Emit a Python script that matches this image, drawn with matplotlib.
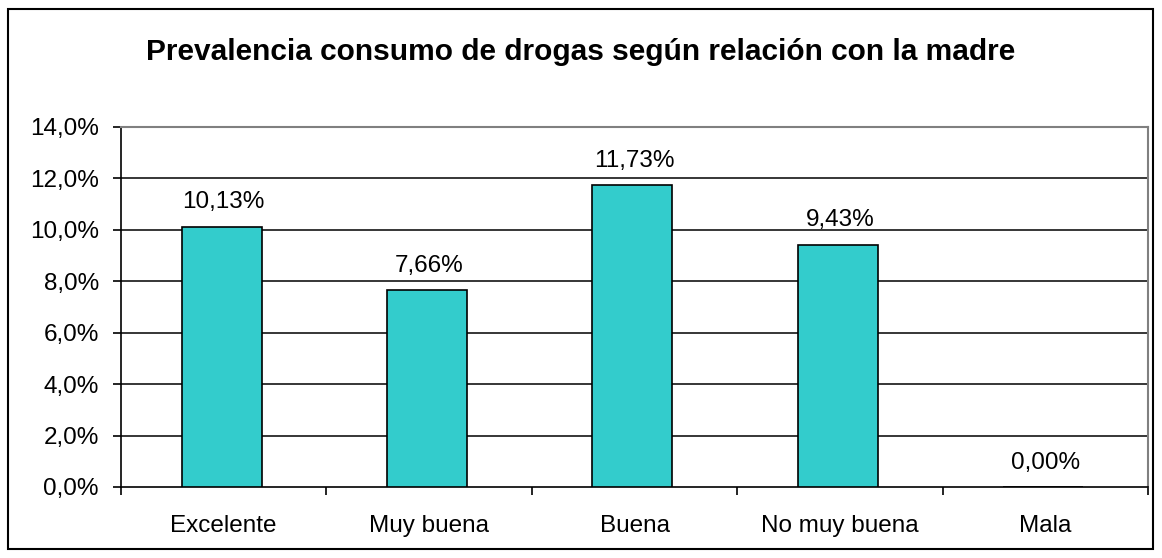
import matplotlib.pyplot as plt
from matplotlib.patches import Rectangle
import numpy as np

categorias = ["Excelente", "Muy buena", "Buena", "No muy buena", "Mala"]
prevalencia = [0.1013, 0.0766, 0.1173, 0.0943, 0.0000]
etiquetas = ["10,13%", "7,66%", "11,73%", "9,43%", "0,00%"]
yticks = [0.0, 0.02, 0.04, 0.06, 0.08, 0.10, 0.12, 0.14]
titulo = "Prevalencia consumo de drogas según relación con la madre"

plt.rcParams['font.family'] = ['Liberation Sans', 'DejaVu Sans']

fig = plt.figure(figsize=(11.62, 5.58), dpi=100)
ax = fig.add_axes([121 / 1162, 1 - 487 / 558, (1148 - 121) / 1162, (487 - 127) / 558])

# marco exterior del grafico
fig.patches.append(Rectangle((8 / 1162, 1 - 549 / 558), (1153 - 8) / 1162, (549 - 9) / 558,
                             transform=fig.transFigure, fill=False, edgecolor='black',
                             linewidth=1.5, zorder=0))

x = np.arange(len(categorias))
ax.bar(x - 0.01, prevalencia, width=0.39, color='#33CCCC', edgecolor='black', linewidth=1.2, zorder=3)

for xi, v, lab in zip(x, prevalencia, etiquetas):
    ax.annotate(lab, (xi, v), xytext=(0, 13), textcoords='offset points',
                ha='center', va='baseline', fontsize=17.5)

ax.set_xlim(-0.5, len(categorias) - 0.5)
ax.set_ylim(0, 0.14)
ax.set_yticks(yticks)
ax.set_yticklabels([f"{t * 100:.1f}%".replace('.', ',') for t in yticks])
ax.set_xticks(x)
ax.set_xticklabels(categorias)
ax.set_xticks(np.arange(len(categorias) + 1) - 0.5, minor=True)

ax.tick_params(axis='x', which='major', length=0, pad=20, labelsize=17.5)
ax.tick_params(axis='x', which='minor', length=6, width=1.2, direction='out')
ax.tick_params(axis='y', length=6, width=1.2, direction='out', pad=10, labelsize=17.5)

for t in yticks[1:-1]:
    ax.axhline(t, color='black', linewidth=1.1, zorder=1)

ax.spines['left'].set_linewidth(1.2)
ax.spines['bottom'].set_linewidth(1.2)
ax.spines['top'].set_color('#808080')
ax.spines['right'].set_color('#808080')
ax.spines['top'].set_linewidth(1.5)
ax.spines['right'].set_linewidth(1.5)

fig.text(581 / 1162, 1 - 52 / 558, titulo, ha='center', va='center',
         fontsize=21.5, fontweight='bold')

fig.savefig('out.png', dpi=100)
